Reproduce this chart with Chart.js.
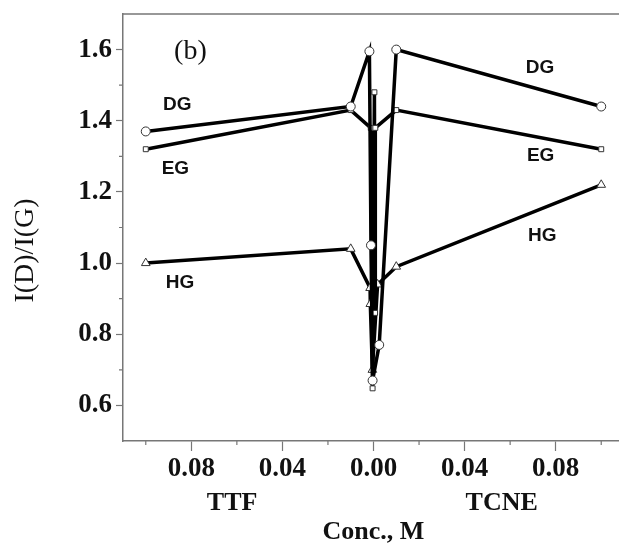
<!DOCTYPE html>
<html lang="en">
<head>
    <meta charset="UTF-8">
    <title>I(D)/I(G) vs concentration</title>
    <script src="https://cdn.jsdelivr.net/npm/chart.js"></script>
    <style>
        body { margin: 0; overflow: hidden; background: #fff; }
        #wrap { width: 630px; height: 550px; }
    </style>
</head>
<body>
    <div id="wrap"><canvas id="chart" width="630" height="550"></canvas></div>

    <script>
        // TTF side is plotted as negative concentration, TCNE side as positive
        const dgX = [-0.1, -0.01, -0.0018, -0.0011, -0.0004, 0.0025, 0.01, 0.1];
        const dgY = [1.37, 1.44, 1.595, 1.05, 0.67, 0.77, 1.60, 1.44];

        const egX = [-0.1, -0.01, -0.0012, -0.0004, 0.0004, 0.0007, 0.0008, 0.01, 0.1];
        const egY = [1.32, 1.43, 1.38, 0.648, 1.48, 0.86, 1.38, 1.43, 1.32];

        const hgX = [-0.1, -0.01, -0.0015, -0.0014, -0.0005, 0.0018, 0.01, 0.1];
        const hgY = [1.00, 1.04, 0.93, 0.885, 0.70, 0.94, 0.99, 1.22];

        const xMajor = [-0.08, -0.04, 0, 0.04, 0.08];
        const xMinor = [-0.10, -0.06, -0.02, 0.02, 0.06, 0.10];
        const yMajor = [0.6, 0.8, 1.0, 1.2, 1.4, 1.6];
        const yMinor = [0.7, 0.9, 1.1, 1.3, 1.5];

        const noteText = ['DG', 'EG', 'HG', 'DG', 'EG', 'HG'];
        const noteX = [-0.0862, -0.0870, -0.0850, 0.0731, 0.0734, 0.0741];
        const noteY = [1.446, 1.266, 0.946, 1.548, 1.302, 1.077];

        const sideText = ['TTF', 'TCNE'];
        const sideX = [-0.0621, 0.0563];

        const toPts = (xs, ys) => xs.map((v, i) => ({ x: v, y: ys[i] }));

        const decor = {
            id: 'decor',
            afterDraw(chart) {
                const { ctx, chartArea: a, scales: { x, y } } = chart;
                ctx.save();
                ctx.strokeStyle = '#777';
                ctx.lineWidth = 1.5;
                ctx.beginPath();
                ctx.moveTo(a.left, a.top);
                ctx.lineTo(a.right, a.top);
                ctx.lineTo(a.right, a.bottom);
                ctx.stroke();

                ctx.lineWidth = 1.2;
                ctx.beginPath();
                xMinor.forEach(v => {
                    const px = x.getPixelForValue(v);
                    ctx.moveTo(px, a.bottom);
                    ctx.lineTo(px, a.bottom + 4);
                });
                yMinor.forEach(v => {
                    const py = y.getPixelForValue(v);
                    ctx.moveTo(a.left, py);
                    ctx.lineTo(a.left - 4, py);
                });
                ctx.stroke();

                ctx.fillStyle = '#111';
                ctx.textAlign = 'center';
                ctx.textBaseline = 'middle';

                ctx.font = '28px "Liberation Serif"';
                ctx.fillText('(b)', x.getPixelForValue(-0.0804), y.getPixelForValue(1.593));

                ctx.font = 'bold 19px "Liberation Sans"';
                noteText.forEach((t, i) => {
                    ctx.fillText(t, x.getPixelForValue(noteX[i]), y.getPixelForValue(noteY[i]));
                });

                ctx.font = 'bold 26px "Liberation Serif"';
                sideText.forEach((t, i) => {
                    ctx.fillText(t, x.getPixelForValue(sideX[i]), a.bottom + 62);
                });

                // y axis title
                ctx.font = '28px "Liberation Serif"';
                ctx.translate(26, (a.top + a.bottom) / 2 + 23);
                ctx.rotate(-Math.PI / 2);
                ctx.fillText('I(D)/I(G)', 0, 0);
                ctx.restore();
            }
        };

        const series = (label, xs, ys, style, r) => ({
            label,
            data: toPts(xs, ys),
            showLine: true,
            borderColor: '#000',
            borderWidth: 3.5,
            pointStyle: style,
            pointRadius: r,
            pointBackgroundColor: '#fff',
            pointBorderColor: '#333',
            pointBorderWidth: 1
        });

        new Chart(document.getElementById('chart'), {
            type: 'scatter',
            data: {
                datasets: [
                    series('DG', dgX, dgY, 'circle', 4.5),
                    series('EG', egX, egY, 'rect', 3.5),
                    series('HG', hgX, hgY, 'triangle', 5)
                ]
            },
            options: {
                responsive: false,
                animation: false,
                layout: { padding: { top: 14, right: 6, left: 0, bottom: 0 } },
                plugins: { legend: { display: false }, tooltip: { enabled: false } },
                scales: {
                    x: {
                        type: 'linear',
                        min: -0.11,
                        max: 0.11,
                        afterBuildTicks: s => { s.ticks = xMajor.map(v => ({ value: v })); },
                        afterFit: s => {
                            s.height = 109;
                            s.paddingLeft = 0; s.paddingRight = 0;
                        },
                        border: { color: '#777', width: 1.5 },
                        grid: { drawOnChartArea: false, tickLength: 10, tickColor: '#777', tickWidth: 1.2 },
                        ticks: {
                            color: '#111',
                            padding: 2,
                            font: { family: 'Liberation Serif', size: 27, weight: 'bold' },
                            callback: v => Math.abs(v).toFixed(2)
                        },
                        title: {
                            display: true,
                            text: 'Conc., M',
                            color: '#111',
                            padding: { top: 0, bottom: 2 },
                            font: { family: 'Liberation Serif', size: 26, weight: 'bold', lineHeight: 1.2 }
                        }
                    },
                    y: {
                        min: 0.5,
                        max: 1.7,
                        afterBuildTicks: s => { s.ticks = yMajor.map(v => ({ value: v })); },
                        afterFit: s => {
                            s.width = 123;
                            s.paddingTop = 0; s.paddingBottom = 0;
                        },
                        border: { color: '#777', width: 1.5 },
                        grid: { drawOnChartArea: false, tickLength: 7, tickColor: '#777', tickWidth: 1.2 },
                        ticks: {
                            color: '#111',
                            padding: 4,
                            font: { family: 'Liberation Serif', size: 27, weight: 'bold' },
                            callback: v => v.toFixed(1)
                        }
                    }
                }
            },
            plugins: [decor]
        });
    </script>
</body>
</html>
